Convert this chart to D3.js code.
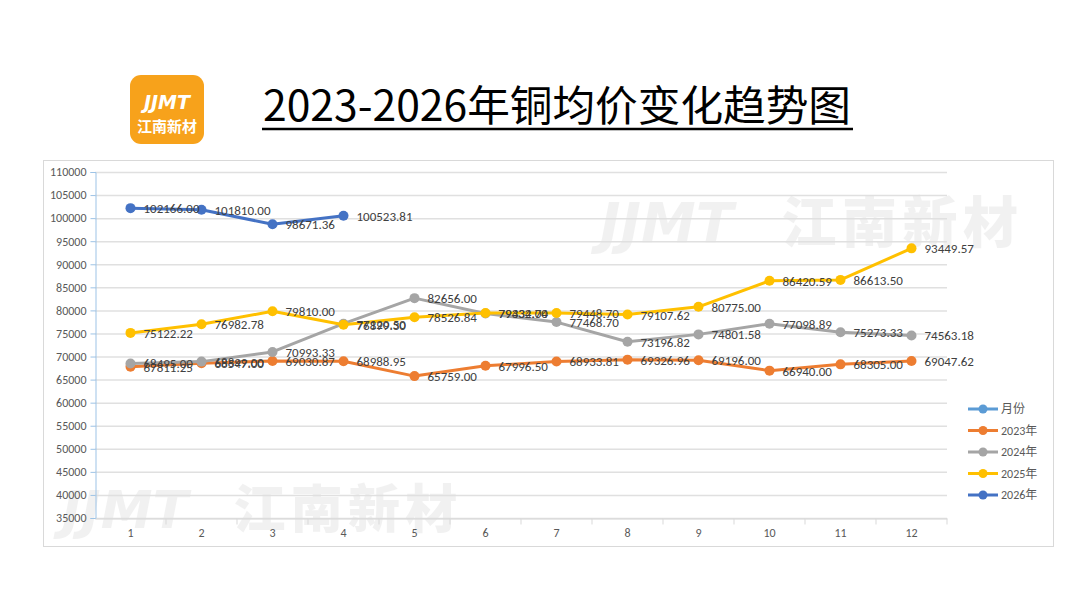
<!DOCTYPE html>
<html>
<head>
<meta charset="utf-8">
<script src="https://cdn.jsdelivr.net/npm/d3@7"></script>
<style>
  body { margin: 0; background: #fff; }
  svg { display: block; }
</style>
</head>
<body>
<script>
// Data
var months = [1, 2, 3, 4, 5, 6, 7, 8, 9, 10, 11, 12];
var price2023 = [67811.25, 68547.00, 69030.87, 68988.95, 65759.00, 67996.50, 68933.81, 69326.96, 69196.00, 66940.00, 68305.00, 69047.62];
var price2024 = [68495.00, 68899.00, 70993.33, 77120.50, 82656.00, 79332.00, 77468.70, 73196.82, 74801.58, 77098.89, 75273.33, 74563.18];
var price2025 = [75122.22, 76982.78, 79810.00, 76899.30, 78526.84, 79434.74, 79448.70, 79107.62, 80775.00, 86420.59, 86613.50, 93449.57];
var price2026 = [102166.00, 101810.00, 98671.36, 100523.81];
var yTicks = [35000, 40000, 45000, 50000, 55000, 60000, 65000, 70000, 75000, 80000, 85000, 90000, 95000, 100000, 105000, 110000];
var legendNames = ["月份", "2023年", "2024年", "2025年", "2026年"];

var series = [
    { name: "2023年", values: price2023, color: "#ED7D31" },
    { name: "2024年", values: price2024, color: "#A5A5A5" },
    { name: "2025年", values: price2025, color: "#FFC000" },
    { name: "2026年", values: price2026, color: "#4472C4" }
];
var legendColors = ["#5B9BD5", "#ED7D31", "#A5A5A5", "#FFC000", "#4472C4"];

var w = 1080;
var h = 595;
var font = "Calibri, 'Liberation Sans', 'Noto Sans CJK SC', sans-serif";

var svg = d3.select("body")
    .append("svg")
    .attr("width", w)
    .attr("height", h);

// Chart frame
svg.append("rect")
    .attr("x", 43.5).attr("y", 160.5)
    .attr("width", 1010).attr("height", 386)
    .attr("fill", "#fff")
    .attr("stroke", "#d9d9d9");

// Watermarks (faint logo text behind the plot)
function watermark(x, y, size) {
    var g = svg.append("g").attr("opacity", 0.05);
    g.append("text")
        .attr("x", x).attr("y", y)
        .attr("font-family", "'DejaVu Sans', sans-serif")
        .attr("font-weight", "bold")
        .attr("font-style", "italic")
        .attr("font-size", size)
        .attr("fill", "#000")
        .text("JJMT");
    g.append("text")
        .attr("x", x + size * 3.3).attr("y", y)
        .attr("font-family", "'Noto Sans CJK SC', sans-serif")
        .attr("font-weight", "900")
        .attr("font-size", size)
        .attr("fill", "#000")
        .attr("letter-spacing", size * 0.1)
        .text("江南新材");
}
watermark(600, 242, 55);
watermark(62, 528, 52);

// Scales
var xScale = d3.scaleBand()
    .domain(months)
    .range([95, 947]);

var yScale = d3.scaleLinear()
    .domain([35000, 110000])
    .range([518, 172]);

// Gridlines
svg.append("g")
    .selectAll("line")
    .data(yTicks)
    .enter()
    .append("line")
    .attr("x1", 95)
    .attr("x2", 947)
    .attr("y1", function(d) { return yScale(d) + 0.5; })
    .attr("y2", function(d) { return yScale(d) + 0.5; })
    .attr("stroke", "#e0e0e0")
    .attr("stroke-width", 1.5);

// Y axis
var yAxis = d3.axisLeft(yScale)
    .tickValues(yTicks)
    .tickSize(5)
    .tickFormat(d3.format("d"));
var gy = svg.append("g")
    .attr("transform", "translate(95.5,0)")
    .call(yAxis);
gy.select(".domain").attr("stroke", "#9DC3E6");
gy.selectAll(".tick line").attr("stroke", "#9DC3E6");
gy.selectAll(".tick text")
    .attr("font-family", font)
    .attr("font-size", "12px")
    .attr("fill", "#595959")
    .attr("x", -9);

// X axis
var xAxis = d3.axisBottom(xScale).tickSize(0).tickPadding(10);
var gx = svg.append("g")
    .attr("transform", "translate(0,518.5)")
    .call(xAxis);
gx.select(".domain").attr("stroke", "#d9d9d9");
gx.selectAll(".tick text")
    .attr("font-family", font)
    .attr("font-size", "12px")
    .attr("fill", "#595959");
// band boundary ticks
gx.selectAll(".band-tick")
    .data(months)
    .enter()
    .append("line")
    .attr("class", "band-tick")
    .attr("x1", function(d) { return xScale(d) + xScale.bandwidth(); })
    .attr("x2", function(d) { return xScale(d) + xScale.bandwidth(); })
    .attr("y1", 0)
    .attr("y2", 6)
    .attr("stroke", "#d9d9d9");

function cx(i) { return xScale(months[i]) + xScale.bandwidth() / 2; }

var line = d3.line()
    .x(function(d, i) { return cx(i); })
    .y(function(d) { return yScale(d); });

// Lines and markers
series.forEach(function(s) {
    svg.append("path")
        .datum(s.values)
        .attr("d", line)
        .attr("fill", "none")
        .attr("stroke", s.color)
        .attr("stroke-width", 3)
        .attr("stroke-linejoin", "round");

    svg.append("g")
        .selectAll("circle")
        .data(s.values)
        .enter()
        .append("circle")
        .attr("cx", function(d, i) { return cx(i); })
        .attr("cy", function(d) { return yScale(d); })
        .attr("r", 5)
        .attr("fill", s.color);
});

// Data labels
series.forEach(function(s) {
    svg.append("g")
        .selectAll("text")
        .data(s.values)
        .enter()
        .append("text")
        .attr("x", function(d, i) { return cx(i) + 13; })
        .attr("y", function(d) { return yScale(d) + 5; })
        .attr("font-family", font)
        .attr("font-size", "13px")
        .attr("fill", "#404040")
        .text(function(d) { return d.toFixed(2); });
});

// Legend
var legend = svg.append("g")
    .selectAll("g")
    .data(legendNames)
    .enter()
    .append("g")
    .attr("transform", function(d, i) { return "translate(968," + (409 + i * 21.5) + ")"; });
legend.append("line")
    .attr("x1", 0).attr("x2", 30)
    .attr("stroke", function(d, i) { return legendColors[i]; })
    .attr("stroke-width", 3);
legend.append("circle")
    .attr("cx", 15).attr("r", 4.5)
    .attr("fill", function(d, i) { return legendColors[i]; });
legend.append("text")
    .attr("x", 33).attr("y", 4)
    .attr("font-family", font)
    .attr("font-size", "12px")
    .attr("fill", "#595959")
    .text(function(d) { return d; });

// Logo
svg.append("rect")
    .attr("x", 130).attr("y", 75)
    .attr("width", 74).attr("height", 69)
    .attr("rx", 11)
    .attr("fill", "#F7A21B");
svg.append("text")
    .attr("x", 167).attr("y", 109)
    .attr("text-anchor", "middle")
    .attr("font-family", "'DejaVu Sans', sans-serif")
    .attr("font-weight", "bold")
    .attr("font-style", "italic")
    .attr("font-size", "19px")
    .attr("fill", "#fff")
    .text("JJMT");
svg.append("text")
    .attr("x", 167).attr("y", 132)
    .attr("text-anchor", "middle")
    .attr("font-family", "'Noto Sans CJK SC', sans-serif")
    .attr("font-weight", "bold")
    .attr("font-size", "15px")
    .attr("fill", "#fff")
    .text("江南新材");

// Title
svg.append("text")
    .attr("x", 557).attr("y", 121)
    .attr("text-anchor", "middle")
    .attr("font-family", "'Noto Sans CJK SC', sans-serif")
    .attr("font-size", "42px")
    .attr("fill", "#000")
    .attr("textLength", 588)
    .attr("lengthAdjust", "spacingAndGlyphs")
    .text("2023-2026年铜均价变化趋势图");
svg.append("line")
    .attr("x1", 262).attr("x2", 853)
    .attr("y1", 129).attr("y2", 129)
    .attr("stroke", "#000")
    .attr("stroke-width", 2.5);
</script>
</body>
</html>
